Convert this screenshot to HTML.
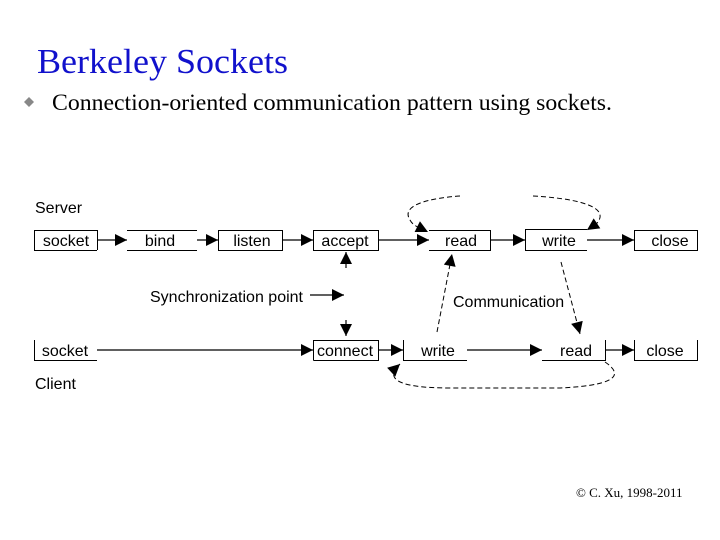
<!DOCTYPE html>
<html><head><meta charset="utf-8"><style>
html,body{margin:0;padding:0;background:#fff;}
svg{display:block;}
</style></head><body>
<svg width="720" height="540" viewBox="0 0 720 540" xmlns="http://www.w3.org/2000/svg">
<defs>
<marker id="a" viewBox="0 0 10 10" refX="10" refY="5" markerWidth="14" markerHeight="12" markerUnits="userSpaceOnUse" orient="auto"><path d="M0,0 L10,5 L0,10 z" fill="#000"/></marker>
</defs>
<text x="37" y="73" font-family="Liberation Serif, serif" font-size="35" fill="#1111cc" textLength="251" lengthAdjust="spacingAndGlyphs">Berkeley Sockets</text>
<path d="M29,97 L34,102 L29,107 L24,102 z" fill="#888"/>
<text x="52" y="110" font-family="Liberation Serif, serif" font-size="23" fill="#000" textLength="560" lengthAdjust="spacingAndGlyphs">Connection-oriented communication pattern using sockets.</text>
<g font-family="Liberation Sans, sans-serif" font-size="16" fill="#000">
<text x="35" y="213">Server</text>
<text x="35" y="389">Client</text>
<text x="150" y="302">Synchronization point</text>
<text x="453" y="307">Communication</text>
</g>
<g font-family="Liberation Sans, sans-serif" font-size="16" fill="#000" text-anchor="middle">
<text x="66" y="246">socket</text>
<text x="160" y="246">bind</text>
<text x="252" y="246">listen</text>
<text x="345" y="246">accept</text>
<text x="461" y="246">read</text>
<text x="559" y="246">write</text>
<text x="670" y="246">close</text>
<text x="65" y="356">socket</text>
<text x="345" y="356">connect</text>
<text x="438" y="356">write</text>
<text x="576" y="356">read</text>
<text x="665" y="356">close</text>
</g>
<g fill="none" stroke="#000" stroke-width="1">
<path d="M34.5,250 V230.5 H97.5 V250 M34,250.5 H97"/>
<path d="M127,230.5 H197 M127,250.5 H197"/>
<rect x="218.5" y="230.5" width="64" height="20"/>
<rect x="313.5" y="230.5" width="65" height="20"/>
<path d="M429,230.5 H490.5 V250.5 H429"/>
<path d="M525.5,250 V229.5 H587 M525,250.5 H587"/>
<path d="M634.5,250 V230.5 H697.5 V250.5 H634"/>
<path d="M34.5,340 V360 M34,360.5 H97"/>
<path d="M313.5,360.5 V340.5 H378.5 V360.5 H313.5"/>
<path d="M403.5,340 V360 M403,360.5 H467"/>
<path d="M542,360.5 H605.5 V340"/>
<path d="M634.5,360 V340 M634,360.5 H697.5 V340"/>
</g>
<g fill="none" stroke="#000" stroke-width="1.2" marker-end="url(#a)">
<line x1="97" y1="240" x2="127" y2="240"/>
<line x1="197" y1="240" x2="218" y2="240"/>
<line x1="282" y1="240" x2="313" y2="240"/>
<line x1="378" y1="240" x2="429" y2="240"/>
<line x1="490" y1="240" x2="525" y2="240"/>
<line x1="587" y1="240" x2="634" y2="240"/>
<line x1="97" y1="350" x2="313" y2="350"/>
<line x1="378" y1="350" x2="403" y2="350"/>
<line x1="467" y1="350" x2="542" y2="350"/>
<line x1="605" y1="350" x2="634" y2="350"/>
<line x1="310" y1="295" x2="344" y2="295"/>
<line x1="346" y1="268" x2="346" y2="252"/>
<line x1="346" y1="320" x2="346" y2="336"/>
</g>
<g fill="none" stroke="#000" stroke-width="1" stroke-dasharray="5,3" marker-end="url(#a)">
<path d="M460,196 C430,198 400,205 410,220 C413,226 420,228 428,232"/>
<path d="M533,196 C570,198 610,205 598,222 C593,228 590,228 587,230"/>
<path d="M437,332 L452,254"/>
<path d="M561,262 L580,334"/>
<path d="M605,362 C620,372 625,385 560,388 L450,388 C395,388 385,378 400,364"/>
</g>
<text x="576" y="497" font-family="Liberation Serif, serif" font-size="13" fill="#000">© C. Xu, 1998-2011</text>
</svg>
</body></html>
